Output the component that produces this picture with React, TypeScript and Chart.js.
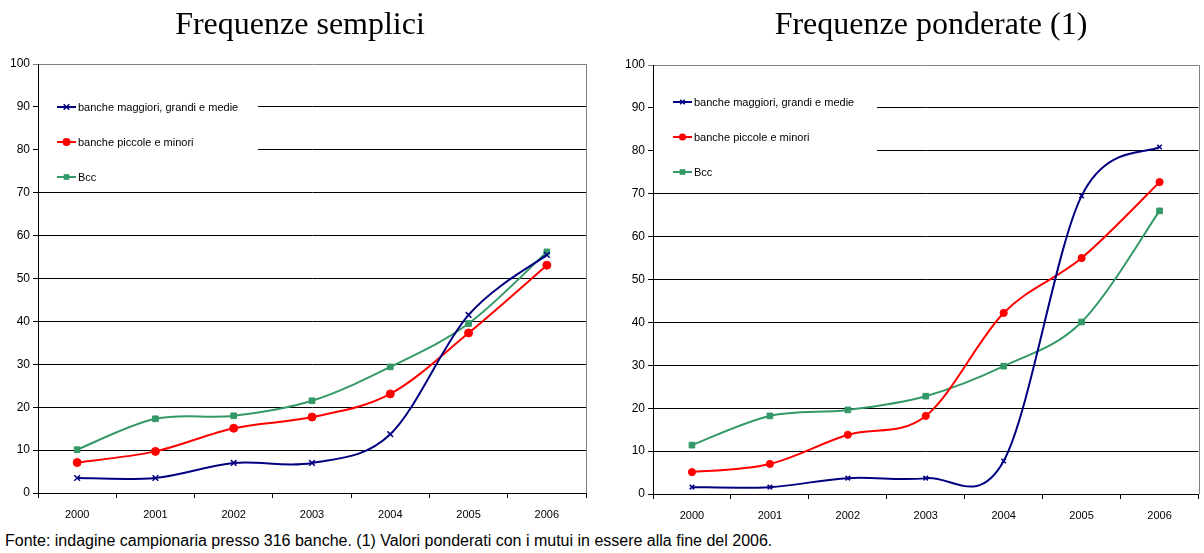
import React, { useEffect, useRef } from 'react';
import { Chart, registerables } from 'chart.js';

Chart.register(...registerables);

// Anni sull'asse delle categorie
const years = ['2000', '2001', '2002', '2003', '2004', '2005', '2006'];

// Nomi delle serie
const seriesNames = ['banche maggiori, grandi e medie', 'banche piccole e minori', 'Bcc'];

// Frequenze semplici (valori percentuali)
const sempliciMaggiori = [3.5, 3.5, 7.0, 7.0, 13.7, 41.5, 55.5];
const sempliciPiccole = [7.1, 9.7, 15.1, 17.7, 23.1, 37.3, 53.1];
const sempliciBcc = [10.1, 17.3, 18.0, 21.5, 29.4, 39.5, 56.2];

// Frequenze ponderate con i mutui in essere (valori percentuali)
const ponderateMaggiori = [1.6, 1.6, 3.7, 3.7, 7.7, 69.5, 80.9];
const ponderatePiccole = [5.1, 7.0, 13.8, 18.2, 42.2, 55.0, 72.7];
const ponderateBcc = [11.4, 18.2, 19.6, 22.8, 29.8, 40.1, 66.0];

// Asse dei valori
const yMin = 0;
const yMax = 100;
const yStep = 10;

const titleLeft = 'Frequenze semplici';
const titleRight = 'Frequenze ponderate (1)';
const footnote =
  'Fonte: indagine campionaria presso 316 banche. (1) Valori ponderati con i mutui in essere alla fine del 2006.';

const SANS = '"Liberation Sans", Arial, Helvetica, sans-serif';
const SERIF = '"Liberation Serif", "Times New Roman", Times, serif';

const COLORS = ['#000080', '#FF0000', '#339966'];
const STYLES = ['crossRot', 'circle', 'rect'];

type PanelSpec = {
  key: string;
  title: string;
  titleX: number;
  left: number;
  width: number;
  height: number;
  padTop: number;
  padRight: number;
  yWidth: number;
  xHeight: number;
  values: number[][];
  markerRadius: number[];
  legend: { x1: number; y1: number; x2: number; y2: number; sampleX: number; rows: number[] };
};

const panels: PanelSpec[] = [
  {
    key: 'semplici',
    title: titleLeft,
    titleX: 300,
    left: 0,
    width: 600,
    height: 526,
    padTop: 64,
    padRight: 14,
    yWidth: 38,
    xHeight: 33,
    values: [sempliciMaggiori, sempliciPiccole, sempliciBcc],
    markerRadius: [4, 4, 4],
    legend: { x1: 39, y1: 88, x2: 258, y2: 190, sampleX: 57, rows: [107, 142, 177] },
  },
  {
    key: 'ponderate',
    title: titleRight,
    titleX: 331,
    left: 600,
    width: 604,
    height: 526,
    padTop: 65,
    padRight: 2,
    yWidth: 53,
    xHeight: 32,
    values: [ponderateMaggiori, ponderatePiccole, ponderateBcc],
    markerRadius: [3.2, 3.6, 4],
    legend: { x1: 54, y1: 83, x2: 277, y2: 186, sampleX: 73, rows: [102, 137, 172] },
  },
];

function drawMarker(ctx: CanvasRenderingContext2D, style: string, x: number, y: number, r: number, color: string) {
  ctx.save();
  ctx.strokeStyle = color;
  ctx.fillStyle = color;
  ctx.lineWidth = 1.5;
  if (style === 'crossRot') {
    const d = r * Math.SQRT1_2;
    ctx.beginPath();
    ctx.moveTo(x - d, y - d);
    ctx.lineTo(x + d, y + d);
    ctx.moveTo(x + d, y - d);
    ctx.lineTo(x - d, y + d);
    ctx.stroke();
  } else if (style === 'circle') {
    ctx.beginPath();
    ctx.arc(x, y, r, 0, Math.PI * 2);
    ctx.fill();
  } else {
    const s = r * Math.SQRT1_2;
    ctx.fillRect(x - s, y - s, 2 * s, 2 * s);
  }
  ctx.restore();
}

function Panel({ spec }: { spec: PanelSpec }) {
  const ref = useRef<HTMLCanvasElement>(null);

  useEffect(() => {
    const canvas = ref.current;
    if (!canvas) return;

    const decor = {
      id: 'panelDecor',
      beforeDatasetsDraw(chart: any) {
        const { ctx, chartArea } = chart;

        // smussatura uniforme delle curve (Catmull-Rom, tangente = (succ - prec) / 6)
        chart.data.datasets.forEach((_: any, i: number) => {
          const meta = chart.getDatasetMeta(i);
          const pts = meta.data;
          const n = pts.length;
          for (let k = 0; k < n; k++) {
            const p = pts[k];
            const prev = pts[Math.max(0, k - 1)];
            const next = pts[Math.min(n - 1, k + 1)];
            const dx = (next.x - prev.x) / 6;
            const dy = (next.y - prev.y) / 6;
            p.cp1x = p.x - dx;
            p.cp1y = p.y - dy;
            p.cp2x = p.x + dx;
            p.cp2y = p.y + dy;
          }
          if (meta.dataset) {
            meta.dataset._pointsUpdated = true;
            meta.dataset._path = undefined;
          }
        });

        // bordo grigio destro dell'area del grafico
        ctx.save();
        ctx.strokeStyle = '#808080';
        ctx.lineWidth = 1;
        ctx.beginPath();
        const x = Math.round(chartArea.right) + 0.5;
        ctx.moveTo(x, chartArea.top);
        ctx.lineTo(x, chartArea.bottom);
        ctx.stroke();
        ctx.restore();
      },
      afterDraw(chart: any) {
        const { ctx } = chart;
        // titolo
        ctx.save();
        ctx.font = `32px ${SERIF}`;
        ctx.fillStyle = '#000';
        ctx.textAlign = 'center';
        ctx.textBaseline = 'alphabetic';
        ctx.fillText(spec.title, spec.titleX, 34);
        ctx.restore();

        // legenda
        const lg = spec.legend;
        ctx.save();
        ctx.fillStyle = '#fff';
        ctx.fillRect(lg.x1, lg.y1, lg.x2 - lg.x1, lg.y2 - lg.y1);
        ctx.font = `11px ${SANS}`;
        ctx.textBaseline = 'middle';
        ctx.textAlign = 'left';
        seriesNames.forEach((name, i) => {
          const y = lg.rows[i];
          ctx.strokeStyle = COLORS[i];
          ctx.lineWidth = 2;
          ctx.beginPath();
          ctx.moveTo(lg.sampleX, y);
          ctx.lineTo(lg.sampleX + 19, y);
          ctx.stroke();
          drawMarker(ctx, STYLES[i], lg.sampleX + 9.5, y, spec.markerRadius[i], COLORS[i]);
          ctx.fillStyle = '#000';
          ctx.fillText(name, lg.sampleX + 21, y + 0.5);
        });
        ctx.restore();
      },
    };

    const chart = new Chart(canvas, {
      type: 'line',
      data: {
        labels: years,
        datasets: seriesNames.map((name, i) => ({
          label: name,
          data: spec.values[i],
          borderColor: COLORS[i],
          backgroundColor: COLORS[i],
          borderWidth: 2,
          pointStyle: STYLES[i] as any,
          pointRadius: spec.markerRadius[i],
          pointBorderWidth: i === 0 ? 1.5 : 1,
          pointBorderColor: COLORS[i],
          pointBackgroundColor: COLORS[i],
          tension: 0.4,
          fill: false,
        })),
      },
      options: {
        responsive: false,
        animation: false,
        devicePixelRatio: 1,
        layout: { padding: { left: 0, top: spec.padTop, right: spec.padRight, bottom: 0 } },
        plugins: {
          legend: { display: false },
          title: { display: false },
          tooltip: { enabled: false },
        },
        scales: {
          x: {
            type: 'category',
            offset: true,
            grid: {
              offset: true,
              drawOnChartArea: false,
              drawTicks: true,
              tickLength: 5,
              color: '#000',
            },
            border: { display: true, color: '#000', width: 1 },
            ticks: {
              color: '#000',
              font: { family: SANS, size: 11 },
              padding: 10,
              maxRotation: 0,
              autoSkip: false,
            },
            afterFit: (scale: any) => {
              scale.height = spec.xHeight;
            },
          },
          y: {
            min: yMin,
            max: yMax,
            grid: {
              drawTicks: true,
              tickLength: 5,
              color: (c: any) => (c.tick && c.tick.value === yMax ? '#808080' : '#000'),
              lineWidth: 1,
            },
            border: { display: true, color: '#000', width: 1 },
            ticks: {
              stepSize: yStep,
              color: '#000',
              font: { family: SANS, size: 12 },
              padding: 3,
            },
            afterFit: (scale: any) => {
              scale.width = spec.yWidth;
            },
          },
        },
      },
      plugins: [decor],
    });

    return () => chart.destroy();
  }, [spec]);

  return (
    <canvas
      ref={ref}
      width={spec.width}
      height={spec.height}
      style={{ position: 'absolute', left: spec.left, top: 0, width: spec.width, height: spec.height }}
    />
  );
}

export default function App() {
  return (
    <div
      style={{
        position: 'absolute',
        left: 0,
        top: 0,
        width: 1204,
        height: 553,
        background: '#fff',
        overflow: 'hidden',
      }}
    >
      {panels.map((p) => (
        <Panel key={p.key} spec={p} />
      ))}
      <div
        style={{
          position: 'absolute',
          left: 5,
          top: 532,
          fontFamily: SANS,
          fontSize: 16,
          lineHeight: '18px',
          color: '#000',
          whiteSpace: 'nowrap',
        }}
      >
        {footnote}
      </div>
    </div>
  );
}
